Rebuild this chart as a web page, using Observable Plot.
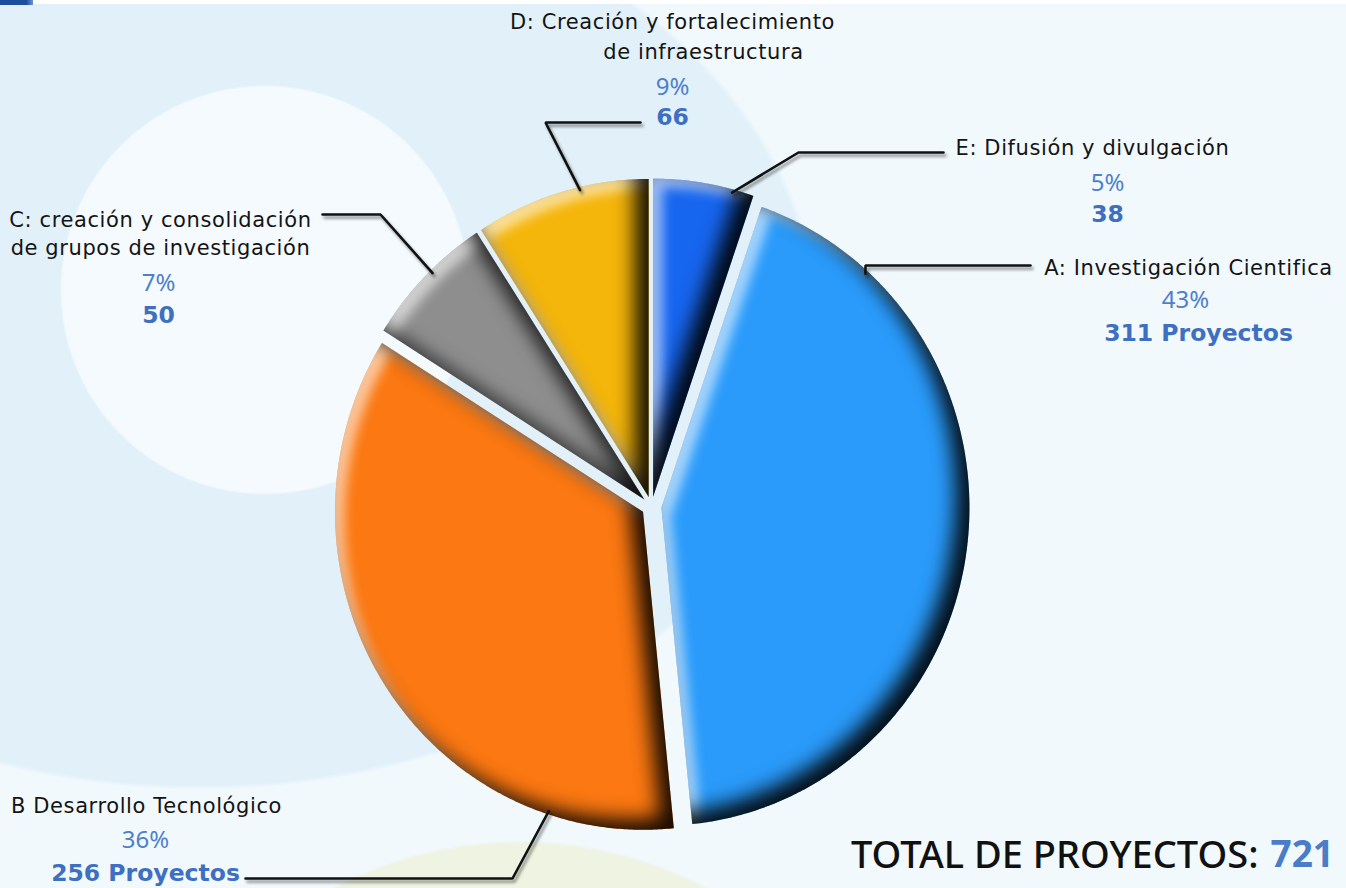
<!DOCTYPE html>
<html>
<head>
<meta charset="utf-8">
<script src="https://cdn.jsdelivr.net/npm/d3@7"></script>
<script src="https://cdn.jsdelivr.net/npm/@observablehq/plot@0.6"></script>
<style>
  html, body { margin: 0; padding: 0; }
  body {
    width: 1346px; height: 888px; overflow: hidden; position: relative;
    background:
      radial-gradient(circle 205px at 265px 290px, #f4fafd 99%, rgba(244,250,253,0) 100%),
      radial-gradient(circle 400px at 520px 1240px, #eef3e2 99%, rgba(238,243,226,0) 100%),
      radial-gradient(ellipse 620px 460px at 200px 330px, #e2f1f9 99%, rgba(226,241,249,0) 100%),
      #f1f9fd;
  }
  #topbar { position: absolute; left: 0; top: 0; width: 1346px; height: 4px; background: #ffffff; }
  #topmark { position: absolute; left: 0; top: 0; width: 33px; height: 5px; background: linear-gradient(90deg, #1d4e9e 80%, #6d95cf); }
  #chart { position: absolute; left: 0; top: 0; }
</style>
</head>
<body>
<div id="topbar"></div><div id="topmark"></div>
<div id="chart"></div>
<script>
// ---------------- data ----------------
const categories = ["A", "B", "C", "D", "E"];
const titleLines = [
  ["A: Investigación Cientifica"],
  ["B Desarrollo Tecnológico"],
  ["C: creación y consolidación", "de grupos de investigación"],
  ["D: Creación y fortalecimiento", "de infraestructura"],
  ["E: Difusión y divulgación"]
];
const projects = [311, 256, 50, 66, 38];
const countSuffix = [" Proyectos", " Proyectos", "", "", ""];
const totalLabel = "TOTAL DE PROYECTOS:";
const totalProjects = 721;

// ---------------- styles / layout ----------------
const sliceColors = ["#2a9bfb", "#fb7812", "#8e8e8e", "#f5b60b", "#1766f0"];
const W = 1346, H = 888;
const CX = 651, CY = 506, RX = 308, RY = 318, EXPLODE = 10;
const layout = {
  A: {title: [[1188, 268]], pct: [1185, 300], count: [1198, 333], angle: 42, leader: [[865, 265], [1030, 265]]},
  B: {title: [[146, 806]], pct: [145, 840], count: [145, 873], angle: 198, leader: [[512, 878], [245, 878]]},
  C: {title: [[160, 220], [160, 248]], pct: [158, 283], count: [158, 315], angle: 316, leader: [[380, 214], [322, 214]]},
  D: {title: [[672, 22], [703, 52]], pct: [672, 87], count: [672, 117], angle: 347, leader: [[545, 122], [640, 122]]},
  E: {title: [[1092, 148]], pct: [1107, 183], count: [1107, 214], angle: 15, leader: [[798, 152], [943, 152]]}
};
const totalPos = {labelEnd: [1258, 855], valueStart: [1270, 855]};
const FONT_TITLE = "'DejaVu Sans', 'Noto Sans', sans-serif";
const FONT = "'Noto Sans', 'DejaVu Sans', sans-serif";

// ---------------- geometry from values ----------------
const TAU = 2 * Math.PI;
const sum = d3.sum(projects);
const start0 = TAU * projects[categories.indexOf("E")] / sum; // E sits just right of 12 o'clock
const arcs = d3.pie().sort(null).startAngle(start0).endAngle(start0 + TAU)(projects);

const slicePts = [];
const centers = {};
arcs.forEach((a, i) => {
  const cat = categories[i];
  const mid = (a.startAngle + a.endAngle) / 2;
  const cx = CX + EXPLODE * Math.sin(mid), cy = CY - EXPLODE * Math.cos(mid);
  centers[cat] = [cx, cy];
  slicePts.push({cat, x: cx, y: cy});
  const n = Math.max(10, Math.ceil((a.endAngle - a.startAngle) / 0.008));
  for (let k = 0; k <= n; ++k) {
    const t = a.startAngle + (a.endAngle - a.startAngle) * k / n;
    slicePts.push({cat, x: cx + RX * Math.sin(t), y: cy - RY * Math.cos(t)});
  }
});

const leaderPts = [];
categories.forEach(cat => {
  const L = layout[cat];
  const t = L.angle * Math.PI / 180;
  const [cx, cy] = centers[cat];
  leaderPts.push({cat, x: cx + RX * 0.99 * Math.sin(t), y: cy - RY * 0.99 * Math.cos(t)});
  L.leader.forEach(([x, y]) => leaderPts.push({cat, x, y}));
});

const titleRows = [], pctRows = [], countRows = [];
categories.forEach((cat, i) => {
  const L = layout[cat];
  titleLines[i].forEach((txt, j) => titleRows.push({x: L.title[j][0], y: L.title[j][1], text: txt}));
  pctRows.push({x: L.pct[0], y: L.pct[1], text: Math.round(projects[i] / totalProjects * 100) + "%"});
  countRows.push({x: L.count[0], y: L.count[1], text: projects[i] + countSuffix[i]});
});

const chart = Plot.plot({
  width: W, height: H,
  margin: 0,
  style: {background: "transparent", overflow: "visible"},
  x: {domain: [0, W], range: [0, W], axis: null},
  y: {domain: [0, H], range: [0, H], axis: null},
  color: {type: "ordinal", domain: categories, range: sliceColors},
  marks: [
    Plot.line(slicePts, {x: "x", y: "y", z: "cat", fill: "cat", stroke: "none", curve: "linear-closed"}),
    Plot.line(leaderPts, {x: "x", y: "y", z: "cat", stroke: "#111", strokeWidth: 2.6, curve: "linear", strokeLinejoin: "miter"}),
    Plot.text(titleRows, {x: "x", y: "y", text: "text", fontSize: 21, fill: "#141414", fontFamily: FONT_TITLE}),
    Plot.text(pctRows, {x: "x", y: "y", text: "text", fontSize: 24, fill: "#4f7fcb", fontFamily: FONT}),
    Plot.text(countRows, {x: "x", y: "y", text: "text", fontSize: 23.5, fontWeight: "bold", fill: "#3f6fc0", fontFamily: FONT_TITLE}),
    Plot.text([{x: totalPos.labelEnd[0], y: totalPos.labelEnd[1], text: totalLabel}], {x: "x", y: "y", text: "text", textAnchor: "end", fontSize: 38, fontWeight: 500, fill: "#111", fontFamily: FONT}),
    Plot.text([{x: totalPos.valueStart[0], y: totalPos.valueStart[1], text: String(totalProjects)}], {x: "x", y: "y", text: "text", textAnchor: "start", fontSize: 37, fontWeight: "bold", fill: "#4a7cc8", fontFamily: FONT})
  ]
});
document.getElementById("chart").appendChild(chart);

// 3D bevel shading on slices, drop shadows on leader lines, title tracking
const svg = d3.select(chart);
const defs = svg.insert("defs", ":first-child");
defs.html(`
<filter id="bevel" x="-10%" y="-10%" width="120%" height="120%" color-interpolation-filters="sRGB">
  <feGaussianBlur in="SourceAlpha" stdDeviation="10" result="blurA"/>
  <feOffset in="blurA" dx="-14" dy="-11" result="offDark"/>
  <feComposite in="SourceAlpha" in2="offDark" operator="out" result="rimDark"/>
  <feFlood flood-color="#000000" flood-opacity="0.9" result="black"/>
  <feComposite in="black" in2="rimDark" operator="in" result="shadow"/>
  <feGaussianBlur in="SourceAlpha" stdDeviation="6" result="blurB"/>
  <feOffset in="blurB" dx="9" dy="9" result="offLight"/>
  <feComposite in="SourceAlpha" in2="offLight" operator="out" result="rimLight"/>
  <feFlood flood-color="#ffffff" flood-opacity="0.6" result="white"/>
  <feComposite in="white" in2="rimLight" operator="in" result="light"/>
  <feMerge><feMergeNode in="SourceGraphic"/><feMergeNode in="light"/><feMergeNode in="shadow"/></feMerge>
</filter>`);
const lineGroups = chart.querySelectorAll('g[aria-label="line"]');
d3.select(lineGroups[0]).selectAll("path").attr("filter", "url(#bevel)");
d3.select(lineGroups[1]).style("filter", "drop-shadow(2px 3px 1.5px rgba(0,0,0,0.45))");
const textGroups = chart.querySelectorAll('g[aria-label="text"]');
d3.select(textGroups[0]).style("letter-spacing", "0.6px");
</script>
</body>
</html>
